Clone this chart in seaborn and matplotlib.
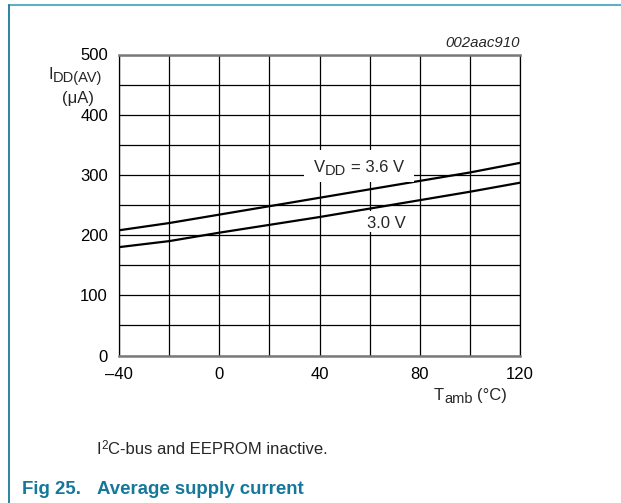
import matplotlib
matplotlib.use("Agg")
import matplotlib.pyplot as plt
import seaborn as sns
import pandas as pd
from matplotlib.lines import Line2D
from matplotlib.patches import Rectangle

# ---- data ----
temperature = [-40, -20, 0, 20, 40, 60, 80, 100, 120]
idd_36 = [208, 220, 234, 248, 262, 276, 290, 304, 320]
idd_30 = [180, 190, 204, 217, 230, 244, 258, 272, 287]
series_names = ["3.6 V", "3.0 V"]
x_tick_values = [-40, -20, 0, 20, 40, 60, 80, 100, 120]
x_tick_labels = ["–40", "", "0", "", "40", "", "80", "", "120"]
y_tick_values = [0, 50, 100, 150, 200, 250, 300, 350, 400, 450, 500]
y_tick_labels = ["0", "", "100", "", "200", "", "300", "", "400", "", "500"]

df = pd.DataFrame({
    "T": temperature * 2,
    "I": idd_36 + idd_30,
    "VDD": [series_names[0]] * len(temperature) + [series_names[1]] * len(temperature),
})

sns.set_style("white")
plt.rcParams["font.family"] = ["Liberation Sans", "DejaVu Sans"]

W, H = 621, 503
fig = plt.figure(figsize=(W / 100, H / 100), dpi=100)
ax = fig.add_axes([119 / W, (H - 355.5) / H, 401 / W, 301 / H])

sns.lineplot(data=df, x="T", y="I", hue="VDD", palette=["black", "black"],
             linewidth=1.6, legend=False, ax=ax, zorder=3)

ax.set_xlim(-40, 120)
ax.set_ylim(0, 500)
ax.set_xticks(x_tick_values)
ax.set_xticklabels(x_tick_labels)
ax.set_yticks(y_tick_values)
ax.set_yticklabels(y_tick_labels)
ax.tick_params(axis="x", length=0, labelsize=12, colors="black", pad=8.5)
ax.tick_params(axis="y", length=0, labelsize=12, colors="black", pad=8)
ax.grid(True, color="black", linewidth=0.9)
ax.set_axisbelow(True)
ax.set_xlabel("")
ax.set_ylabel("")
for side in ["left", "right"]:
    ax.spines[side].set_color("black")
    ax.spines[side].set_linewidth(0.9)
for side in ["top", "bottom"]:
    ax.spines[side].set_color("#7a7a7a")
    ax.spines[side].set_linewidth(1.8)

renderer = fig.canvas.get_renderer()
SUB_SCALE, SUB_DROP = 0.88, 3.0
SUP_SCALE, SUP_RISE = 0.7, 5.0


def rich(x, y, pieces, size, ha="left", **kw):
    """x, y: pixel position (y from top) of the baseline anchor."""
    items = []
    for s, kind in pieces:
        fs = size * (SUB_SCALE if kind == "sub" else SUP_SCALE if kind == "sup" else 1.0)
        sp = 0.278 * fs * 100 / 72
        lead = (len(s) - len(s.lstrip(" "))) * sp
        trail = (len(s) - len(s.rstrip(" "))) * sp
        core = s.strip(" ")
        t = fig.text(0, 0, core, fontsize=fs, **kw)
        w = t.get_window_extent(renderer).width
        t.remove()
        items.append((core, fs, kind, lead, w, trail))
    total = sum(a[3] + a[4] + a[5] for a in items)
    x0 = x - total if ha == "right" else x - total / 2 if ha == "center" else x
    cx = x0
    for core, fs, kind, lead, w, trail in items:
        cx += lead
        yy = y + (SUB_DROP if kind == "sub" else -SUP_RISE if kind == "sup" else 0)
        fig.text(cx / W, 1 - yy / H, core, fontsize=fs, ha="left", va="baseline",
                 zorder=5, **kw)
        cx += w + trail


def data_px(xd, yd):
    px = ax.transData.transform((xd, yd))
    return px[0], H - px[1]


def white_box(x0, y0, x1, y1):
    fig.add_artist(Rectangle((x0 / W, 1 - y1 / H), (x1 - x0) / W, (y1 - y0) / H,
                             transform=fig.transFigure, facecolor="white",
                             edgecolor="none", zorder=1))


# curve labels (anchored in data coordinates)
lx, ly = data_px(55.8, 313)
white_box(lx - 55, ly - 17, lx + 55, ly + 15)
rich(lx, ly + 5, [("V", "n"), ("DD", "sub"), (" = 3.6 V", "n")], 12, ha="center")
lx2, ly2 = data_px(66.7, 221)
white_box(lx2 - 25, ly2 - 11, lx2 + 25, ly2 + 10)
rich(lx2, ly2 + 6, [("3.0 V", "n")], 12, ha="center")

# annotations
fig.text(520 / W, 1 - 47 / H, "002aac910", ha="right", va="baseline",
         fontsize=10.8, style="italic")
rich(75, 79, [("I", "n"), ("DD(AV)", "sub")], 12, ha="center")
rich(78, 103, [("(μA)", "n")], 12, ha="center")
rich(507, 400, [("T", "n"), ("amb", "sub"), (" (°C)", "n")], 12, ha="right")
rich(97, 454, [("I", "n"), ("2", "sup"), ("C-bus and EEPROM inactive.", "n")], 12)
fig.text(22 / W, 1 - 494 / H, "Fig 25.", ha="left", va="baseline",
         fontsize=13.4, fontweight="bold", color="#15789a")
fig.text(97 / W, 1 - 494 / H, "Average supply current", ha="left", va="baseline",
         fontsize=13.4, fontweight="bold", color="#15789a")

# frame lines
fig.add_artist(Line2D([9 / W, 1], [1 - 5 / H, 1 - 5 / H], color="#5fb0c0", linewidth=1.5,
                      transform=fig.transFigure))
fig.add_artist(Line2D([9 / W, 9 / W], [1 - 5 / H, 0], color="#1a7a9a", linewidth=1.3,
                      transform=fig.transFigure))

fig.savefig("out.png", dpi=100)
